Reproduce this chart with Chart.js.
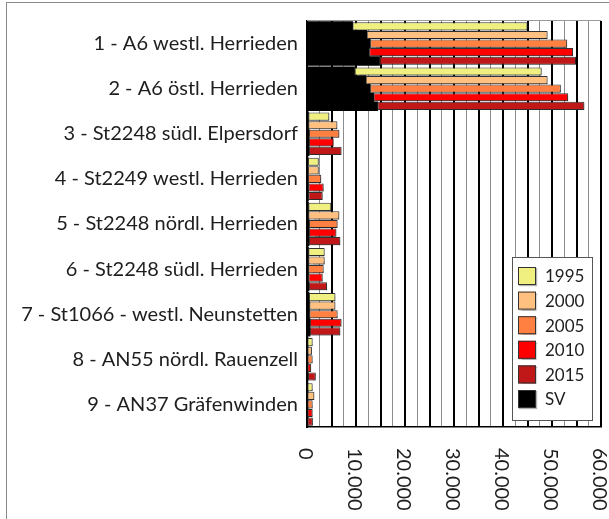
<!DOCTYPE html>
<html>
<head>
<meta charset="utf-8">
<script src="https://cdn.jsdelivr.net/npm/chart.js@4/dist/chart.umd.min.js"></script>
<style>
  html, body { margin: 0; padding: 0; background: #fff; overflow: hidden; }
  #frame { position: absolute; left: 6px; top: 2px; width: 700px; height: 700px;
           border-left: 1px solid #8a8a8a; border-top: 1px solid #8a8a8a; }
  #c { position: absolute; left: 0; top: 0; }
</style>
</head>
<body>
<div id="frame"></div>
<canvas id="c" width="609" height="519"></canvas>
<script>
// Zählstellen (counting stations)
const stations = [
  '1 - A6 westl. Herrieden',
  '2 - A6 östl. Herrieden',
  '3 - St2248 südl. Elpersdorf',
  '4 - St2249 westl. Herrieden',
  '5 - St2248 nördl. Herrieden',
  '6 - St2248 südl. Herrieden',
  '7 - St1066 - westl. Neunstetten',
  '8 - AN55 nördl. Rauenzell',
  '9 - AN37 Gräfenwinden'
];

const years = ['1995', '2000', '2005', '2010', '2015'];

// DTV – total daily traffic per station and year
const dtv1995 = [45000, 47900, 4550, 2400, 4950, 3600, 5800, 1150, 1150];
const dtv2000 = [49100, 49100, 6200, 2400, 6600, 3600, 5800, 1000, 1500];
const dtv2005 = [53100, 51800, 6600, 2900, 6250, 3400, 6250, 1150, 1150];
const dtv2010 = [54300, 53300, 5450, 3400, 6000, 3200, 7050,  850, 1150];
const dtv2015 = [54900, 56600, 7050, 3200, 6800, 4100, 6800, 1800, 1200];

// SV – heavy goods traffic per station and year
const sv1995 = [ 9300,  9700, 300, 200, 300, 300, 400, 100, 100];
const sv2000 = [12200, 12000, 300, 200, 300, 300, 500, 100, 100];
const sv2005 = [12900, 12900, 400, 200, 400, 300, 500, 100, 100];
const sv2010 = [12700, 13600, 400, 300, 400, 300, 600, 100, 100];
const sv2015 = [14800, 14400, 400, 300, 400, 400, 600, 200, 100];

const xTickValues = [0, 10000, 20000, 30000, 40000, 50000, 60000];
const xTickLabels = ['0', '10.000', '20.000', '30.000', '40.000', '50.000', '60.000'];

const yearColors = ['#F0F080', '#FFC080', '#FF8040', '#FF0000', '#C01818'];
const svColor = '#000000';

const totals = [dtv1995, dtv2000, dtv2005, dtv2010, dtv2015];
const heavy = [sv1995, sv2000, sv2005, sv2010, sv2015];

// Year bars float from the SV share to the total value
const datasets = years.map((y, k) => ({
  label: y,
  stack: 'j' + y,
  data: totals[k].map((v, i) => [heavy[k][i], v]),
  backgroundColor: yearColors[k],
  borderColor: '#333333',
  borderWidth: 1,
  borderSkipped: false,
  inflateAmount: 0,
  categoryPercentage: 0.95,
  barPercentage: 0.95
}));

// SV bars share each year's slot and fill it completely
years.forEach((y, k) => {
  datasets.push({
    label: 'SV',
    stack: 'j' + y,
    data: heavy[k],
    backgroundColor: svColor,
    borderWidth: 0,
    inflateAmount: 0.4,
    categoryPercentage: 0.97,
    barPercentage: 1
  });
});

const FONT = 'Lato';
const TEXT = '#1e1e1e';

const barShadow = {
  id: 'barShadow',
  beforeDatasetDraw(chart, args) {
    if (args.index >= years.length) return;
    const c = chart.ctx;
    c.save();
    c.shadowColor = 'rgba(0,0,0,0.35)';
    c.shadowOffsetX = 1.5;
    c.shadowOffsetY = 1.5;
    c.shadowBlur = 1.5;
  },
  afterDatasetDraw(chart, args) {
    if (args.index >= years.length) return;
    chart.ctx.restore();
  }
};

const topEdge = {
  id: 'topEdge',
  beforeDatasetsDraw(chart) {
    const { ctx, chartArea: a } = chart;
    ctx.save();
    ctx.strokeStyle = '#9a9a9a';
    ctx.lineWidth = 1;
    ctx.beginPath();
    ctx.moveTo(a.left, a.top - 0.5);
    ctx.lineTo(a.right, a.top - 0.5);
    ctx.stroke();
    ctx.restore();
  }
};

// Value labels under the x axis, turned to read downwards
const xLabels = {
  id: 'xLabels',
  afterDraw(chart) {
    const { ctx } = chart;
    const sx = chart.scales.x;
    ctx.save();
    ctx.fillStyle = TEXT;
    ctx.font = '20px ' + FONT;
    ctx.textAlign = 'left';
    ctx.textBaseline = 'middle';
    xTickValues.forEach((v, i) => {
      const px = sx.getPixelForValue(v);
      ctx.save();
      ctx.translate(px - 2, sx.top + 21);
      ctx.rotate(Math.PI / 2);
      ctx.fillText(xTickLabels[i], 0, 0);
      ctx.restore();
    });
    ctx.restore();
  }
};

// Boxed legend inside the lower right of the plot
const boxLegend = {
  id: 'boxLegend',
  afterDraw(chart) {
    const { ctx, chartArea: a } = chart;
    const ds = chart.data.datasets;
    const items = ds.slice(0, years.length).concat([ds[years.length]]);
    const w = 80, h = 163;
    const left = a.right - 9 - w;
    const top = a.bottom - 7 - h;
    ctx.save();
    ctx.fillStyle = '#ffffff';
    ctx.fillRect(left, top, w, h);
    ctx.strokeStyle = '#555555';
    ctx.lineWidth = 1;
    ctx.strokeRect(Math.round(left) + 0.5, Math.round(top) + 0.5, w, h);
    ctx.font = '17px ' + FONT;
    ctx.textBaseline = 'middle';
    ctx.textAlign = 'left';
    items.forEach((d, i) => {
      const cy = top + 19 + i * 24.6;
      ctx.save();
      ctx.shadowColor = 'rgba(0,0,0,0.3)';
      ctx.shadowOffsetX = 1;
      ctx.shadowOffsetY = 1;
      ctx.shadowBlur = 1;
      ctx.fillStyle = d.backgroundColor;
      ctx.fillRect(left + 6, cy - 9, 18, 18);
      ctx.restore();
      ctx.strokeStyle = '#333333';
      ctx.strokeRect(left + 6.5, cy - 8.5, 17, 17);
      ctx.fillStyle = TEXT;
      ctx.fillText(d.label, left + 33, cy + 1);
    });
    ctx.restore();
  }
};

new Chart(document.getElementById('c'), {
  type: 'bar',
  data: { labels: stations, datasets },
  options: {
    indexAxis: 'y',
    responsive: false,
    animation: false,
    devicePixelRatio: 1,
    layout: { padding: { left: 0, right: 8, top: 15, bottom: 0 } },
    plugins: {
      legend: { display: false },
      tooltip: { enabled: false }
    },
    scales: {
      x: {
        type: 'linear',
        position: 'bottom',
        stacked: false,
        min: 0,
        max: 60000,
        ticks: { stepSize: 2500, display: false },
        grid: {
          drawTicks: false,
          color: c => (c.tick && c.tick.value % 5000 === 0) ? '#000000' : '#8c8c8c',
          lineWidth: c => (c.tick && c.tick.value % 5000 === 0) ? 2 : 1
        },
        border: { color: '#000000', width: 1.5 },
        afterFit: s => { s.height = 92; }
      },
      y: {
        type: 'category',
        position: 'left',
        grid: { display: false, drawTicks: false },
        border: { color: '#000000', width: 2 },
        ticks: { font: { family: FONT, size: 20 }, color: TEXT, padding: 9 },
        afterFit: s => { s.width = 307; }
      }
    }
  },
  plugins: [barShadow, topEdge, xLabels, boxLegend]
});
</script>
</body>
</html>
